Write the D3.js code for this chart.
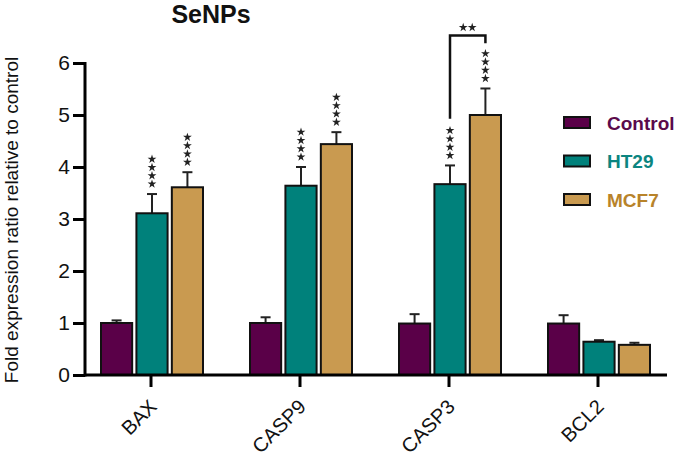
<!DOCTYPE html>
<html><head><meta charset="utf-8">
<script src="https://cdn.jsdelivr.net/npm/d3@7"></script>
<style>body{margin:0;background:#fff}svg{display:block}text{font-family:"Liberation Sans",Arial,sans-serif}</style>
</head><body><svg id="c" width="685" height="456"></svg>
<script>
const genes = ["BAX","CASP9","CASP3","BCL2"];
const series = ["Control","HT29","MCF7"];
const controlVals = [1.00, 1.00, 0.99, 0.99];
const controlErr  = [0.05, 0.11, 0.18, 0.16];
const ht29Vals    = [3.11, 3.64, 3.67, 0.64];
const ht29Err     = [0.37, 0.36, 0.36, 0.03];
const mcf7Vals    = [3.61, 4.44, 5.00, 0.58];
const mcf7Err     = [0.29, 0.23, 0.51, 0.04];
const controlStars = [0,0,0,0];
const ht29Stars    = [4,4,4,0];
const mcf7Stars    = [4,4,4,0];
const yTicks = [0,1,2,3,4,5,6];
const colors = ["#5a0048","#00817b","#c99a50"];
const textColors = ["#5b0a4b","#0b8580","#b8832a"];

const svg = d3.select("#c");
const y = d3.scaleLinear().domain([0,6]).range([375,63]);
const x = d3.scaleBand().domain(genes).range([76.5,672.5]);
const xs = d3.scaleBand().domain(series).range([-50,52]).paddingInner(0.12);

const vals = [controlVals, ht29Vals, mcf7Vals];
const errs = [controlErr, ht29Err, mcf7Err];
const stars = [controlStars, ht29Stars, mcf7Stars];
const data = [];
genes.forEach((g,gi)=>series.forEach((s,si)=>data.push({g,s,si,v:vals[si][gi],e:errs[si][gi],n:stars[si][gi]})));

const star = d3.symbol(d3.symbolStar,24)();

// error bars
const eg = svg.append("g");
data.forEach(d=>{
  const cx = x(d.g)+x.bandwidth()/2+xs(d.s)+xs.bandwidth()/2;
  eg.append("line").attr("x1",cx).attr("x2",cx).attr("y1",y(d.v)).attr("y2",y(d.v+d.e)).attr("stroke","#222").attr("stroke-width",2);
  eg.append("line").attr("x1",cx-5).attr("x2",cx+5).attr("y1",y(d.v+d.e)).attr("y2",y(d.v+d.e)).attr("stroke","#222").attr("stroke-width",2);
  for(let k=0;k<d.n;k++){
    eg.append("path").attr("d",star)
      .attr("transform",`translate(${cx},${y(d.v+d.e)-10-k*8.3})`).attr("fill","#222");
  }
});

// bars
svg.append("g").selectAll("rect").data(data).join("rect")
  .attr("x",d=>x(d.g)+x.bandwidth()/2+xs(d.s))
  .attr("width",xs.bandwidth())
  .attr("y",d=>y(d.v)).attr("height",d=>y(0)-y(d.v))
  .attr("fill",d=>colors[d.si]).attr("stroke","#111").attr("stroke-width",2);

// y axis
const ya = svg.append("g").attr("transform","translate(85,0)")
  .call(d3.axisLeft(y).tickValues(yTicks).tickSize(12).tickPadding(3).tickFormat(d3.format("d")));
ya.select(".domain").attr("stroke","#000").attr("stroke-width",3).attr("d",`M0,${y(6)-1}V${y(0)+1.5}`);
ya.selectAll(".tick line").attr("stroke","#000").attr("stroke-width",3);
ya.selectAll(".tick text").attr("font-size",21).attr("fill","#111").style("font-family","Liberation Sans, Arial, sans-serif");

// x axis
const xa = svg.append("g").attr("transform",`translate(0,${y(0)})`)
  .call(d3.axisBottom(x).tickSize(12).tickPadding(4));
xa.select(".domain").attr("stroke","#000").attr("stroke-width",3).attr("d","M84,0H667");
xa.selectAll(".tick line").attr("stroke","#000").attr("stroke-width",3);
xa.selectAll(".tick text").attr("font-size",20).attr("fill","#111")
  .attr("text-anchor","end").attr("dy",null).attr("y",null)
  .attr("transform","translate(7,33) rotate(-45)")
  .style("font-family","Liberation Sans, Arial, sans-serif");

// y label
svg.append("text").attr("transform",`translate(18,${(y(0)+y(6))/2+1}) rotate(-90)`)
  .attr("text-anchor","middle").attr("font-size",19).attr("fill","#111")
  .text("Fold expression ratio relative to control");

// title
svg.append("text").attr("x",211).attr("y",23).attr("text-anchor","middle")
  .attr("font-size",25).attr("font-weight","bold").attr("fill","#111").text("SeNPs");

// significance bracket CASP3 HT29 vs MCF7
const cH = x("CASP3")+x.bandwidth()/2+xs("HT29")+xs.bandwidth()/2;
const cM = x("CASP3")+x.bandwidth()/2+xs("MCF7")+xs.bandwidth()/2;
svg.append("path").attr("d",`M${cH},${y(4.93)}V${y(6.53)}H${cM}V${y(6.38)}`)
  .attr("fill","none").attr("stroke","#111").attr("stroke-width",2.5);
[-4.5,4.5].forEach(o=>svg.append("path").attr("d",star)
  .attr("transform",`translate(${(cH+cM)/2+o},${y(6.53)-8})`).attr("fill","#222"));

// legend
const lg = svg.append("g");
series.forEach((s,i)=>{
  const cy = 122.5 + i*38.5;
  lg.append("rect").attr("x",564).attr("y",cy-5.5).attr("width",26).attr("height",11)
    .attr("fill",colors[i]).attr("stroke","#111").attr("stroke-width",2);
  lg.append("text").attr("x",607).attr("y",cy+7).attr("font-size",19).attr("font-weight","bold")
    .attr("fill",textColors[i]).text(s);
});
</script></body></html>
